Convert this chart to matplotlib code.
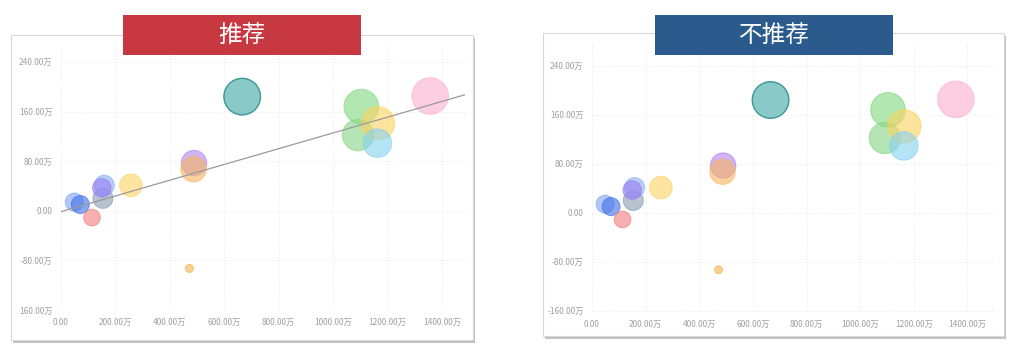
import matplotlib.pyplot as plt
import matplotlib.patches as mpatches
import numpy as np

plt.rcParams['font.family'] = ['Noto Sans CJK SC', 'DejaVu Sans']

# bubble data (x, y in 万; bubble value)
xs = [49, 71, 114, 154, 159, 150, 257, 489, 487, 472, 666, 1104, 1092, 1165, 1163, 1357]
ys = [14, 10, -11, 20, 41, 37, 41, 77, 67, -93, 184, 168, 122, 141, 109, 185]
vals = [81, 81, 69, 100, 100, 86, 128, 161, 161, 16, 335, 299, 246, 279, 204, 335]
colors = ['#7fa3f2', '#3d6ee6', '#f27a7a', '#8a9cb5', '#86aef6', '#9d7cf2', '#fdd462',
          '#b283f2', '#f7b45c', '#f5b04c', '#3aa5a2', '#7fd77f', '#84d484', '#fcd25e',
          '#86d2f2', '#fdaed0']

xticks = [0, 200, 400, 600, 800, 1000, 1200, 1400]
xlabels = ['0.00', '200.00万', '400.00万', '600.00万', '800.00万', '1000.00万', '1200.00万', '1400.00万']
yticks = [240, 160, 80, 0, -80, -160]
ylabels_left = ['240.00万', '160.00万', '80.00万', '0.00', '-80.00万', '160.00万']
ylabels_right = ['240.00万', '160.00万', '80.00万', '0.00', '-80.00万', '-160.00万']

W, H = 1025, 357
fig = plt.figure(figsize=(W / 100, H / 100), dpi=100)


def fbox(x0, y0, x1, y1):
    # pixel box (top-left origin) -> figure fraction
    return [x0 / W, 1 - y1 / H, (x1 - x0) / W, (y1 - y0) / H]


def panel(box, ax_box, title, title_box, tcolor, xlim, ylim, ylabels, trend):
    l, b, w, h = fbox(*box)
    fig.patches.append(mpatches.Rectangle((l + 2 / W, b - 3 / H), w, h, transform=fig.transFigure,
                                          facecolor='#9a9a9a', edgecolor='none', alpha=0.6, zorder=-3))
    fig.patches.append(mpatches.Rectangle((l, b), w, h, transform=fig.transFigure,
                                          facecolor='white', edgecolor='#d8d8d8', lw=0.8, zorder=-2))
    ax = fig.add_axes(fbox(*ax_box))
    ax.set_facecolor('none')
    ax.scatter(xs, ys, s=np.array(vals) * 2.07, c=colors, alpha=0.6,
               edgecolors=colors, linewidths=0.8, zorder=3)
    # teal bubble darker edge
    ax.scatter([xs[10]], [ys[10]], s=vals[10] * 2.07, facecolors='none',
               edgecolors='#2e8a87', linewidths=1.0, alpha=0.7, zorder=4)
    if trend:
        k, c = np.polyfit(xs, ys, 1)
        tx = np.array(xlim)
        ax.plot(tx, k * tx + c, color='#9a9a9a', lw=0.9, zorder=5)
    ax.set_xlim(*xlim)
    ax.set_ylim(*ylim)
    ax.set_xticks(xticks)
    ax.set_xticklabels(xlabels)
    ax.set_yticks(yticks)
    ax.set_yticklabels(ylabels)
    ax.tick_params(length=0, labelsize=6, labelcolor='#a0a0a0', pad=6)
    for s in ax.spines.values():
        s.set_visible(False)
    ax.grid(True, color='#e8e8e8', ls=(0, (1, 2)), lw=0.7)
    ax.set_axisbelow(True)
    tl, tb, tw, th = fbox(*title_box)
    fig.patches.append(mpatches.Rectangle((tl, tb), tw, th, transform=fig.transFigure,
                                          facecolor=tcolor, edgecolor='none', zorder=5))
    fig.text(tl + tw / 2, tb + th / 2, title, color='white', fontsize=17,
             ha='center', va='center', zorder=6)
    return ax


panel((11, 35, 473, 340), (61, 47, 465, 310), '推荐', (123, 15, 361, 55), '#c83840',
      (0, 1485), (-160, 264), ylabels_left, True)
panel((543, 33, 1004, 336), (592, 43, 995, 312), '不推荐', (655, 15, 893, 55), '#2a5b8c',
      (0, 1503), (-162, 277), ylabels_right, False)

fig.savefig('out.png', dpi=100)
